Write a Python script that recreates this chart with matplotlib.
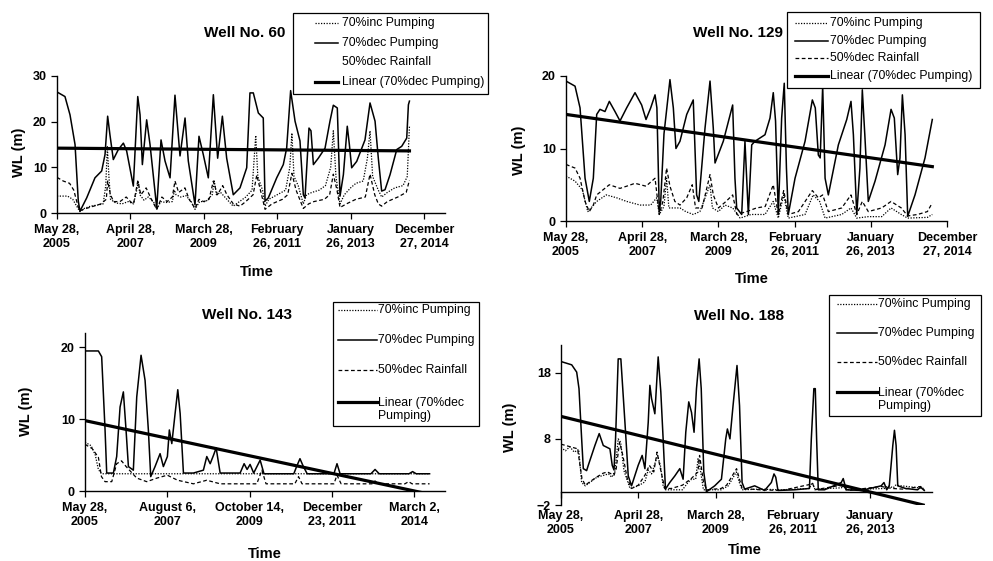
import numpy as np
import matplotlib
matplotlib.use("Agg")
import matplotlib.pyplot as plt
from matplotlib.lines import Line2D
from matplotlib.patches import Rectangle

plt.rcParams['font.family'] = ['Liberation Sans', 'DejaVu Sans']

# ---------------- data (day offsets from 28 May 2005, water level in m) ----------------
START = np.datetime64('2005-05-28')

# Well No. 60
w60_dec_days = [0, 76, 124, 172, 203, 219, 283, 362, 426, 458, 483, 505, 537, 585, 633, 664, 728, 770, 792, 814,
                855, 887, 951, 992, 1030, 1078, 1125, 1173, 1221, 1252, 1316, 1354, 1395, 1443, 1491, 1532, 1577,
                1618, 1681, 1745, 1809, 1840, 1872, 1920, 1967, 1984, 2015, 2095, 2158, 2190, 2228, 2270, 2317,
                2349, 2365, 2403, 2422, 2445, 2492, 2556, 2603, 2635, 2673, 2699, 2731, 2768, 2788, 2810, 2858,
                2937, 2985, 3033, 3064, 3096, 3128, 3176, 3240, 3287, 3335, 3351, 3361]
w60_dec = [26.5, 25.5, 21.5, 15, 2.6, 0.4, 3.3, 7.7, 9.2, 12.8, 21.2, 17.1, 11.7, 13.9, 15.3, 13.6, 5.9, 25.5, 21.5,
           10.6, 20.4, 15, 1.1, 16, 11.4, 7.7, 25.8, 12.5, 20.8, 11.4, 1.8, 16.8, 12.8, 7.7, 25.9, 12, 21.2, 12, 4,
           5.5, 9.9, 26.3, 26.3, 21.9, 20.8, 2.6, 3.3, 7.7, 10.6, 14.2, 26.8, 20.1, 15.8, 4, 3.3, 18.6, 18, 10.6,
           12, 14.2, 20.1, 23.6, 23, 3.7, 8.4, 19, 15, 9.9, 11.3, 16, 24.1, 20.1, 12, 4.8, 5.1, 8.4, 13.9, 14.6,
           16.4, 23.7, 24.5]
w60_inc_days = [0, 100, 150, 200, 219, 260, 320, 400, 440, 465, 480, 495, 510, 560, 620, 680, 730, 760, 775, 790,
                830, 870, 920, 951, 990, 1040, 1100, 1120, 1135, 1180, 1230, 1280, 1316, 1360, 1420, 1480, 1500,
                1520, 1560, 1620, 1680, 1740, 1800, 1860, 1895, 1915, 1960, 1984, 2020, 2100, 2180, 2220, 2240,
                2260, 2300, 2349, 2380, 2430, 2500, 2560, 2610, 2635, 2660, 2699, 2740, 2800, 2850, 2920, 2960,
                2985, 3010, 3064, 3096, 3150, 3220, 3300, 3340, 3361]
w60_inc = [3.7, 3.7, 3.0, 1.0, 0.3, 1.0, 1.5, 1.8, 2.0, 6, 14.5, 8, 3, 2.2, 2.0, 2.5, 2.0, 5, 7, 4, 2.8, 3.5, 2.5,
           0.8, 2.5, 2.3, 2.5, 5, 4, 3.5, 3.8, 2.5, 0.8, 2.5, 2.5, 4, 7, 4, 4.5, 3, 1.5, 2.5, 3.5, 5, 17, 8, 5,
           1.5, 3, 4, 5, 10, 17.5, 8, 6, 2, 4, 4.5, 5, 6, 10, 18, 8, 2, 4, 5.5, 6.5, 7, 12, 18, 8, 5, 3.5, 4.5,
           5.5, 6, 8, 19]
w60_rain_days = [0, 60, 120, 160, 200, 219, 280, 350, 420, 470, 483, 510, 540, 600, 660, 700, 730, 770, 800, 850,
                 900, 951, 1000, 1050, 1100, 1125, 1160, 1220, 1260, 1316, 1354, 1400, 1450, 1491, 1530, 1580, 1620,
                 1681, 1745, 1800, 1870, 1905, 1940, 1984, 2050, 2150, 2200, 2240, 2280, 2349, 2400, 2450, 2550,
                 2600, 2635, 2670, 2699, 2760, 2850, 2940, 2985, 3030, 3064, 3096, 3150, 3250, 3330, 3361]
w60_rain = [7.8, 7, 6.5, 5, 1.5, 0.5, 1.0, 1.5, 2, 3, 7, 4, 2.5, 2.5, 3.5, 2.5, 2, 7, 4, 5.5, 3, 0.8, 3.5, 2.5,
            3.5, 7, 4.5, 5.5, 3, 1, 3, 2.5, 3, 7, 4, 6, 4, 2, 1.5, 2.5, 4, 8.3, 5, 0.8, 2, 3, 4, 8.7, 5, 1, 2, 2.5,
            3, 4, 8.5, 5, 1.2, 2, 3, 3.5, 8.5, 4, 2, 1.5, 2.5, 3.5, 4.5, 7.2]
w60_trend_days = [0, 3361]
w60_trend = [14.2, 13.6]

# Well No. 129
w129_dec_days = [0, 83, 129, 175, 214, 251, 282, 312, 358, 398, 450, 496, 557, 634, 695, 735, 778, 818, 835, 857,
                 870, 900, 955, 986, 1010, 1047, 1109, 1169, 1200, 1220, 1277, 1323, 1353, 1369, 1445, 1531, 1552,
                 1568, 1614, 1644, 1675, 1706, 1736, 1828, 1874, 1904, 1925, 1950, 1981, 2005, 2025, 2042, 2104,
                 2196, 2263, 2290, 2318, 2335, 2358, 2380, 2410, 2502, 2579, 2618, 2640, 2671, 2700, 2722, 2745,
                 2777, 2839, 2931, 2986, 3016, 3047, 3068, 3090, 3115, 3139, 3206, 3298, 3365]
w129_dec = [19.3, 18.6, 15.6, 5.9, 2.7, 5.9, 14.7, 15.4, 15.1, 16.5, 15.1, 13.8, 15.6, 17.7, 16, 14, 15.6, 17.4,
            15.6, 1.3, 2.7, 12, 19.5, 15.6, 10, 11, 14.7, 16.7, 3.6, 2.7, 12.8, 19.3, 12.8, 8, 11, 16, 5.9, 1.8,
            0.9, 11, 0.9, 10.5, 11, 11.9, 14.2, 17.7, 13.8, 0.9, 14.2, 19, 7.3, 0.9, 5.9, 11, 16.7, 15.6, 9.1, 8.7,
            18.6, 5.9, 3.6, 10.5, 14, 16.5, 11.9, 0.9, 7.3, 18.1, 11.9, 2.7, 5.5, 10.5, 15.4, 14.2, 6.4, 8.7, 17.4,
            11.9, 0.65, 3.6, 8.7, 14]
w129_inc_days = [0, 83, 150, 200, 230, 282, 370, 465, 557, 680, 778, 833, 857, 900, 924, 945, 1047, 1100, 1169,
                 1230, 1323, 1345, 1400, 1460, 1531, 1600, 1700, 1828, 1904, 1950, 2000, 2042, 2196, 2270, 2330,
                 2380, 2533, 2618, 2671, 2777, 2900, 2986, 3080, 3139, 3320, 3365]
w129_inc = [6.2, 5.5, 4.3, 1.3, 1.8, 2.7, 3.6, 3.2, 2.7, 2.2, 2.2, 3.2, 0.9, 2.0, 5.9, 1.8, 1.8, 1.3, 0.9, 1.3,
            5.0, 1.8, 1.3, 2.2, 1.8, 0.4, 0.9, 0.9, 2.7, 0.4, 3.6, 0.4, 0.9, 3.6, 2.7, 0.4, 0.9, 1.8, 0.4, 0.6,
            0.6, 1.8, 0.9, 0.4, 0.5, 0.9]
w129_rain_days = [0, 83, 129, 175, 214, 251, 282, 398, 496, 557, 634, 735, 818, 857, 890, 924, 955, 1000, 1047,
                  1109, 1160, 1190, 1250, 1323, 1353, 1400, 1470, 1531, 1570, 1660, 1750, 1830, 1904, 1950, 2000,
                  2042, 2135, 2263, 2318, 2358, 2410, 2533, 2618, 2671, 2722, 2777, 2900, 2986, 3080, 3139, 3230,
                  3320, 3365]
w129_rain = [7.8, 7.3, 5.9, 2.7, 1.3, 2.2, 3.6, 5.0, 4.5, 4.8, 5.2, 4.8, 5.9, 0.9, 2.7, 7.3, 4.8, 2.7, 2.2, 3.2,
             5.0, 1.8, 1.8, 6.4, 3.6, 1.8, 2.7, 3.6, 0.9, 1.3, 1.8, 2.0, 5.0, 0.9, 4.2, 0.9, 1.3, 4.2, 3.2, 3.6,
             1.3, 1.8, 3.6, 0.9, 2.7, 1.3, 1.8, 2.7, 1.8, 0.7, 0.9, 1.3, 2.5]
w129_trend_days = [0, 3365]
w129_trend = [14.7, 7.5]

# Well No. 143
w143_dec_days = [0, 130, 162, 195, 211, 276, 308, 341, 373, 399, 422, 470, 503, 545, 584, 616, 639, 681, 730, 762,
                 801, 820, 844, 876, 902, 925, 957, 1054, 1151, 1184, 1217, 1250, 1275, 1314, 1508, 1547, 1576,
                 1605, 1640, 1703, 1740, 2030, 2060, 2090, 2120, 2160, 2420, 2450, 2480, 2780, 2820, 2860, 3150,
                 3185, 3220, 3350]
w143_dec = [19.5, 19.5, 18.7, 8.5, 2.5, 2.5, 4.8, 11.7, 13.8, 8.5, 3.4, 2.9, 13.1, 18.9, 15.4, 8.5, 2.0, 3.4, 5.2,
            3.4, 4.8, 8.5, 6.6, 10.8, 14.1, 10.8, 2.5, 2.5, 2.9, 4.8, 3.8, 5.0, 6.0, 2.5, 2.5, 3.8, 3.0, 3.7, 2.5,
            4.3, 2.4, 2.4, 3.5, 4.5, 3.5, 2.4, 2.4, 3.8, 2.4, 2.4, 3.0, 2.4, 2.4, 2.7, 2.4, 2.4]
w143_inc_days = [0, 60, 100, 130, 160, 3350]
w143_inc = [6.8, 6.3, 5.0, 3.0, 2.4, 2.4]
w143_rain_days = [0, 70, 130, 160, 195, 260, 308, 355, 400, 503, 600, 700, 800, 900, 1054, 1184, 1314, 1500, 1670,
                  1720, 1760, 2040, 2076, 2110, 2420, 2450, 2490, 2790, 2820, 2850, 3110, 3146, 3180, 3350]
w143_rain = [6.5, 5.9, 4.7, 2.0, 1.3, 1.3, 3.8, 4.2, 3.4, 1.8, 1.3, 1.8, 2.2, 1.5, 1.0, 1.5, 1.0, 1.0, 1.0, 2.9,
             1.0, 1.0, 2.0, 1.0, 1.0, 2.2, 1.0, 1.0, 1.4, 1.0, 1.0, 1.3, 1.0, 1.0]
w143_trend_days = [0, 3350]
w143_trend = [9.8, -0.45]

# Well No. 188
w188_dec_days = [0, 97, 142, 163, 187, 202, 232, 247, 307, 346, 383, 443, 464, 480, 494, 518, 542, 579, 609, 639,
                 699, 735, 760, 790, 805, 820, 850, 880, 904, 925, 946, 985, 1031, 1076, 1106, 1130, 1157, 1182,
                 1205, 1227, 1251, 1270, 1293, 1317, 1392, 1453, 1492, 1507, 1530, 1558, 1594, 1617, 1640, 1663,
                 1754, 1844, 1905, 1929, 1945, 1965, 2115, 2250, 2267, 2290, 2303, 2315, 2330, 2387, 2538, 2556,
                 2583, 2719, 2900, 2925, 2950, 2973, 3005, 3020, 3035, 3050, 3120, 3230, 3256, 3290]
w188_dec = [19.7, 19.2, 18.1, 15.6, 8, 3.5, 3.2, 4.0, 7.0, 8.8, 7.0, 6.5, 4.0, 3.3, 8, 20.1, 20.1, 10.5, 2.4, 0.9,
            4.0, 5.5, 3.5, 10.5, 16.1, 14.1, 11.8, 20.4, 15.1, 8, 0.4, 1.4, 2.4, 3.5, 1.9, 9, 13.6, 12, 9, 15.6,
            20.1, 15.6, 3, 0, 0.9, 1.9, 8, 9.5, 8, 13, 19.1, 13, 1.4, 0.4, 0.9, 0.2, 1.4, 2.7, 2.2, 0.2, 0.3, 0.5,
            8, 15.6, 15.6, 8, 0.3, 0.3, 1.4, 2.0, 0.3, 0.2, 0.9, 1.4, 0.3, 0.9, 7, 9.3, 7, 0.9, 0.5, 0.3, 0.7, 0.2]
w188_inc_days = [0, 40, 80, 120, 160, 187, 220, 325, 430, 460, 490, 518, 540, 570, 625, 700, 760, 790, 820, 874,
                 900, 925, 946, 1100, 1150, 1182, 1220, 1241, 1265, 1290, 1450, 1515, 1588, 1615, 1640, 1800, 2000,
                 2250, 2275, 2300, 2540, 2556, 2580, 2930, 2960, 3010, 3030, 3290]
w188_inc = [6.7, 6.2, 6.8, 6.0, 6.4, 1.4, 0.9, 2.2, 2.7, 2.2, 3.2, 8.0, 7.5, 3.2, 0.5, 0.9, 1.5, 3.3, 2.7, 5.5,
            4.0, 0.9, 0.3, 0.3, 1.4, 1.9, 1.9, 5.0, 3.0, 0.3, 0.3, 0.9, 3.0, 1.4, 0.3, 0.4, 0.3, 0.5, 1.4, 0.4,
            0.6, 1.0, 0.3, 0.5, 0.9, 0.6, 1.0, 0.5]
w188_rain_days = [0, 150, 190, 220, 260, 320, 380, 420, 480, 500, 530, 560, 600, 640, 700, 760, 800, 840, 870, 900,
                  940, 1000, 1100, 1180, 1240, 1255, 1290, 1320, 1450, 1500, 1590, 1640, 1800, 2000, 2280, 2300,
                  2540, 2600, 2900, 3000, 3100, 3256, 3290]
w188_rain = [7.2, 6.5, 2.0, 1.0, 1.5, 2.2, 2.8, 3.0, 2.5, 3.5, 7.5, 5.5, 2.0, 0.5, 1.0, 2.5, 4.0, 3.0, 6.0, 3.5,
             0.5, 0.5, 1.0, 2.0, 3.0, 5.5, 1.5, 0.3, 0.5, 1.0, 3.5, 0.5, 0.3, 0.2, 1.2, 0.3, 1.0, 0.2, 0.8, 0.5,
             0.4, 0.8, 0.3]
w188_trend_days = [0, 3280]
w188_trend = [11.4, -2.0]

ticks_a = ['2005-05-28', '2007-04-28', '2009-03-28', '2011-02-26', '2013-01-26', '2014-12-27']
labels_a = ['May 28,\n2005', 'April 28,\n2007', 'March 28,\n2009', 'February\n26, 2011',
            'January\n26, 2013', 'December\n27, 2014']
ticks_b = ['2005-05-28', '2007-08-06', '2009-10-14', '2011-12-23', '2014-03-02']
labels_b = ['May 28,\n2005', 'August 6,\n2007', 'October 14,\n2009', 'December\n23, 2011', 'March 2,\n2014']

series_labels = ['70%inc Pumping', '70%dec Pumping', '50%dec Rainfall', 'Linear (70%dec Pumping)']

# ---------------- drawing ----------------
W, H = 993, 561
fig = plt.figure(figsize=(W / 100, H / 100), dpi=100)


def dates(days):
    return START + np.asarray(days).astype('timedelta64[D]')


STY_INC = dict(color='black', lw=0.9, linestyle=(0, (1, 1.2)))
STY_DEC = dict(color='black', lw=1.1, linestyle='-')
STY_RAIN = dict(color='black', lw=0.9, linestyle=(0, (3, 2)))
STY_TREND = dict(color='black', lw=2.3, linestyle='-')


def make_panel(box, inc, dec, rain, trend, xmax, ylim, yticks, ticks, tlabels, zero_axis=False):
    l, t, r, b = box
    ax = fig.add_axes([l / W, 1 - b / H, (r - l) / W, (b - t) / H])
    for s in ('top', 'right'):
        ax.spines[s].set_visible(False)
    for s in ('left', 'bottom'):
        ax.spines[s].set_linewidth(1.0)
    if zero_axis:
        ax.spines['bottom'].set_position(('data', 0))
    ax.plot(dates(inc[0]), inc[1], **STY_INC)
    ax.plot(dates(rain[0]), rain[1], **STY_RAIN)
    ax.plot(dates(dec[0]), dec[1], **STY_DEC)
    ax.plot(dates(trend[0]), trend[1], **STY_TREND)
    ax.set_xlim(dates([0])[0], dates([xmax])[0])
    ax.set_ylim(*ylim)
    ax.set_yticks(yticks)
    tk = np.array(ticks, dtype='datetime64[D]')
    keep = tk <= dates([xmax])[0]
    ax.set_xticks(tk[keep])
    ax.set_xticklabels([s for s, k in zip(tlabels, keep) if k], fontsize=9, fontweight='bold',
                       linespacing=1.25)
    for lab in ax.get_yticklabels():
        lab.set_fontsize(9)
        lab.set_fontweight('bold')
    if zero_axis:
        ax.tick_params(axis='x', length=4, width=0.9, pad=9)
    else:
        ax.tick_params(axis='x', length=4, width=0.9, pad=4)
    ax.tick_params(axis='y', length=4.3, width=0.9, pad=3)
    ax.set_facecolor('none')
    return ax


def legend(box, hy, ty, hx0, hx1, tx, styles, labels):
    l, t, r, b = box
    fig.add_artist(Rectangle((l / W, 1 - b / H), (r - l) / W, (b - t) / H, transform=fig.transFigure,
                             facecolor='white', edgecolor='black', lw=0.9, zorder=5))
    for y1, y2, st, lab in zip(hy, ty, styles, labels):
        if st is not None:
            fig.add_artist(Line2D([hx0 / W, hx1 / W], [1 - y1 / H, 1 - y1 / H], transform=fig.transFigure,
                                  zorder=6, **st))
        fig.text(tx / W, 1 - y2 / H, lab, ha='left', va='center', fontsize=8.8, zorder=6, linespacing=1.2)


def label_texts(title_xy, time_xy, wl_xy, title):
    fig.text(title_xy[0] / W, 1 - title_xy[1] / H, title, ha='center', va='center', fontsize=11,
             fontweight='bold')
    fig.text(time_xy[0] / W, 1 - time_xy[1] / H, 'Time', ha='center', va='center', fontsize=10.5,
             fontweight='bold')
    fig.text(wl_xy[0] / W, 1 - wl_xy[1] / H, 'WL (m)', ha='center', va='center', fontsize=10.5,
             fontweight='bold', rotation=90)


# Well 60
make_panel((57, 76, 445, 213), (w60_inc_days, w60_inc), (w60_dec_days, w60_dec), (w60_rain_days, w60_rain),
           (w60_trend_days, w60_trend), 3700, (0, 30), [0, 10, 20, 30], ticks_a, labels_a)
label_texts((245, 33), (257, 272), (19, 152), 'Well No. 60')
legend((293, 13, 488, 94), [23, 43, 62, 82], [23, 43, 62, 82], 315, 338, 342,
       [STY_INC, STY_DEC, None, STY_TREND], series_labels)

# Well 129
make_panel((566, 76, 947, 221), (w129_inc_days, w129_inc), (w129_dec_days, w129_dec),
           (w129_rain_days, w129_rain), (w129_trend_days, w129_trend), 3500, (0, 20), [0, 10, 20],
           ticks_a, labels_a)
label_texts((738, 33), (752, 279), (519, 150), 'Well No. 129')
legend((787, 12, 980, 88), [23, 41, 58, 76], [23, 41, 58, 76], 795, 828, 830,
       [STY_INC, STY_DEC, STY_RAIN, STY_TREND], series_labels)

# Well 143
make_panel((85, 333, 445, 491), (w143_inc_days, w143_inc), (w143_dec_days, w143_dec),
           (w143_rain_days, w143_rain), (w143_trend_days, w143_trend), 3500, (0, 22), [0, 10, 20],
           ticks_b, labels_b)
label_texts((247, 315), (265, 554), (26, 411), 'Well No. 143')
lab2 = series_labels[:3] + ['Linear (70%dec\nPumping)']
legend((333, 302, 479, 426), [310, 340, 370, 402], [310, 340, 370, 409.5], 338, 377, 378,
       [STY_INC, STY_DEC, STY_RAIN, STY_TREND], lab2)

# Well 188
make_panel((561, 345, 932, 505), (w188_inc_days, w188_inc), (w188_dec_days, w188_dec),
           (w188_rain_days, w188_rain), (w188_trend_days, w188_trend), 3360, (-2, 22.2), [-2, 8, 18],
           ticks_a, labels_a, zero_axis=True)
label_texts((739, 316), (745, 550), (510, 427), 'Well No. 188')
legend((829, 295, 981, 416), [304, 333, 362, 392], [304, 333, 362, 399.5], 837, 877, 878,
       [STY_INC, STY_DEC, STY_RAIN, STY_TREND], lab2)

fig.savefig('out.png', dpi=100)
